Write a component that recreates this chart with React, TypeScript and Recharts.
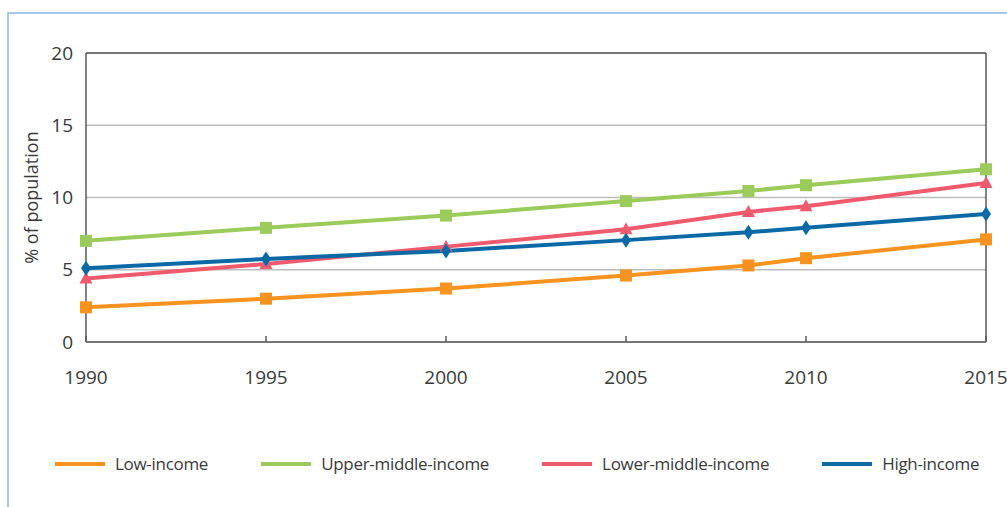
import React from 'react';
import { LineChart, Line, XAxis, YAxis, CartesianGrid, ReferenceLine } from 'recharts';

// values (% of population)
const years = [1990, 1995, 2000, 2005, 2008.4, 2010, 2015];
const lowIncome = [2.4, 3.0, 3.7, 4.6, 5.3, 5.8, 7.1];
const upperMiddleIncome = [7.0, 7.9, 8.75, 9.75, 10.45, 10.85, 11.95];
const lowerMiddleIncome = [4.4, 5.4, 6.6, 7.8, 9.0, 9.4, 11.0];
const highIncome = [5.1, 5.75, 6.3, 7.05, 7.6, 7.9, 8.85];

const xTicks = [1990, 1995, 2000, 2005, 2010, 2015];
const yTicks = [0, 5, 10, 15, 20];

const FONT = '"Open Sans", "DejaVu Sans", sans-serif';
const TEXT = '#3a3a3a';
const AXIS = '#5a5a5a';

const data = years.map((year, i) => ({
  year,
  low: lowIncome[i],
  upper: upperMiddleIncome[i],
  lower: lowerMiddleIncome[i],
  high: highIncome[i],
}));

const series = [
  { key: 'low', name: 'Low-income', color: '#f7931e', shape: 'square' },
  { key: 'upper', name: 'Upper-middle-income', color: '#9bcb5a', shape: 'square' },
  { key: 'lower', name: 'Lower-middle-income', color: '#ef5a6c', shape: 'triangle' },
  { key: 'high', name: 'High-income', color: '#0b6aa6', shape: 'diamond' },
];

const Marker = (props: any) => {
  const { cx, cy, shape, color } = props;
  if (cx == null || cy == null) return null;
  if (shape === 'square') {
    return <rect x={cx - 6} y={cy - 6} width={12} height={12} fill={color} />;
  }
  if (shape === 'triangle') {
    return <polygon points={`${cx},${cy - 7} ${cx + 6.5},${cy + 5} ${cx - 6.5},${cy + 5}`} fill={color} />;
  }
  return <polygon points={`${cx},${cy - 7.5} ${cx + 5},${cy} ${cx},${cy + 7.5} ${cx - 5},${cy}`} fill={color} />;
};

const XTick = (props: any) => {
  const { x, y, payload } = props;
  return (
    <g>
      <line x1={x} x2={x} y1={y} y2={y - 6} stroke={AXIS} strokeWidth={1.5} />
      <text x={x} y={y + 42} textAnchor="middle" fill={TEXT} fontSize={19} fontFamily={FONT}>
        {payload.value}
      </text>
    </g>
  );
};

const LegendRow = () => (
  <div style={{ display: 'flex', alignItems: 'center', whiteSpace: 'nowrap', fontFamily: FONT, fontSize: 17, color: TEXT, letterSpacing: -0.3 }}>
    {series.map((s) => (
      <div key={s.key} style={{ display: 'flex', alignItems: 'center', marginRight: 53, flexShrink: 0 }}>
        <div style={{ width: 50, height: 4, background: s.color, marginRight: 10 }} />
        <span>{s.name}</span>
      </div>
    ))}
  </div>
);

const App: React.FC = () => {
  return (
    <div style={{ position: 'absolute', left: 0, top: 0, width: 1007, height: 507, overflow: 'hidden', background: '#fff' }}>
      <div style={{ position: 'absolute', left: 7, top: 12, width: 1100, height: 600, border: '2px solid #a9c8ec', boxSizing: 'border-box' }} />
      <div style={{ position: 'absolute', left: 0, top: 0 }}>
        <LineChart width={1007} height={400} data={data} margin={{ top: 53, right: 21, left: 10, bottom: 8 }}>
          <CartesianGrid vertical={false} stroke="#bdbdbd" strokeWidth={1.5} />
          <XAxis
            dataKey="year"
            type="number"
            domain={[1990, 2015]}
            ticks={xTicks}
            height={50}
            tickSize={0}
            tickMargin={0}
            tickLine={false}
            tick={<XTick />}
            axisLine={{ stroke: AXIS, strokeWidth: 1.5 }}
          />
          <YAxis
            domain={[0, 20]}
            ticks={yTicks}
            width={76}
            tickSize={0}
            tickMargin={13}
            tickLine={false}
            axisLine={{ stroke: AXIS, strokeWidth: 1.5 }}
            tick={{ fill: TEXT, fontSize: 19, fontFamily: FONT }}
            label={{
              content: (p: any) => {
                const vb = p.viewBox;
                const cx = vb.x + 23;
                const cy = vb.y + vb.height / 2;
                return (
                  <text x={cx} y={cy} transform={`rotate(-90 ${cx} ${cy})`} textAnchor="middle" dominantBaseline="middle" fill={TEXT} fontSize={18} fontFamily={FONT}>
                    % of population
                  </text>
                );
              },
            }}
          />
          <ReferenceLine y={20} stroke={AXIS} strokeWidth={1.5} />
          <ReferenceLine x={2015} stroke={AXIS} strokeWidth={1.5} />
          {series.map((s) => (
            <Line
              key={s.key}
              dataKey={s.key}
              name={s.name}
              stroke={s.color}
              strokeWidth={4}
              type="linear"
              dot={(p: any) => <Marker key={`${s.key}-${p.index}`} {...p} shape={s.shape} color={s.color} />}
              activeDot={false}
              isAnimationActive={false}
            />
          ))}
        </LineChart>
      </div>
      <div style={{ position: 'absolute', left: 55, top: 452, width: 960 }}>
        <LegendRow />
      </div>
    </div>
  );
};

export default App;
